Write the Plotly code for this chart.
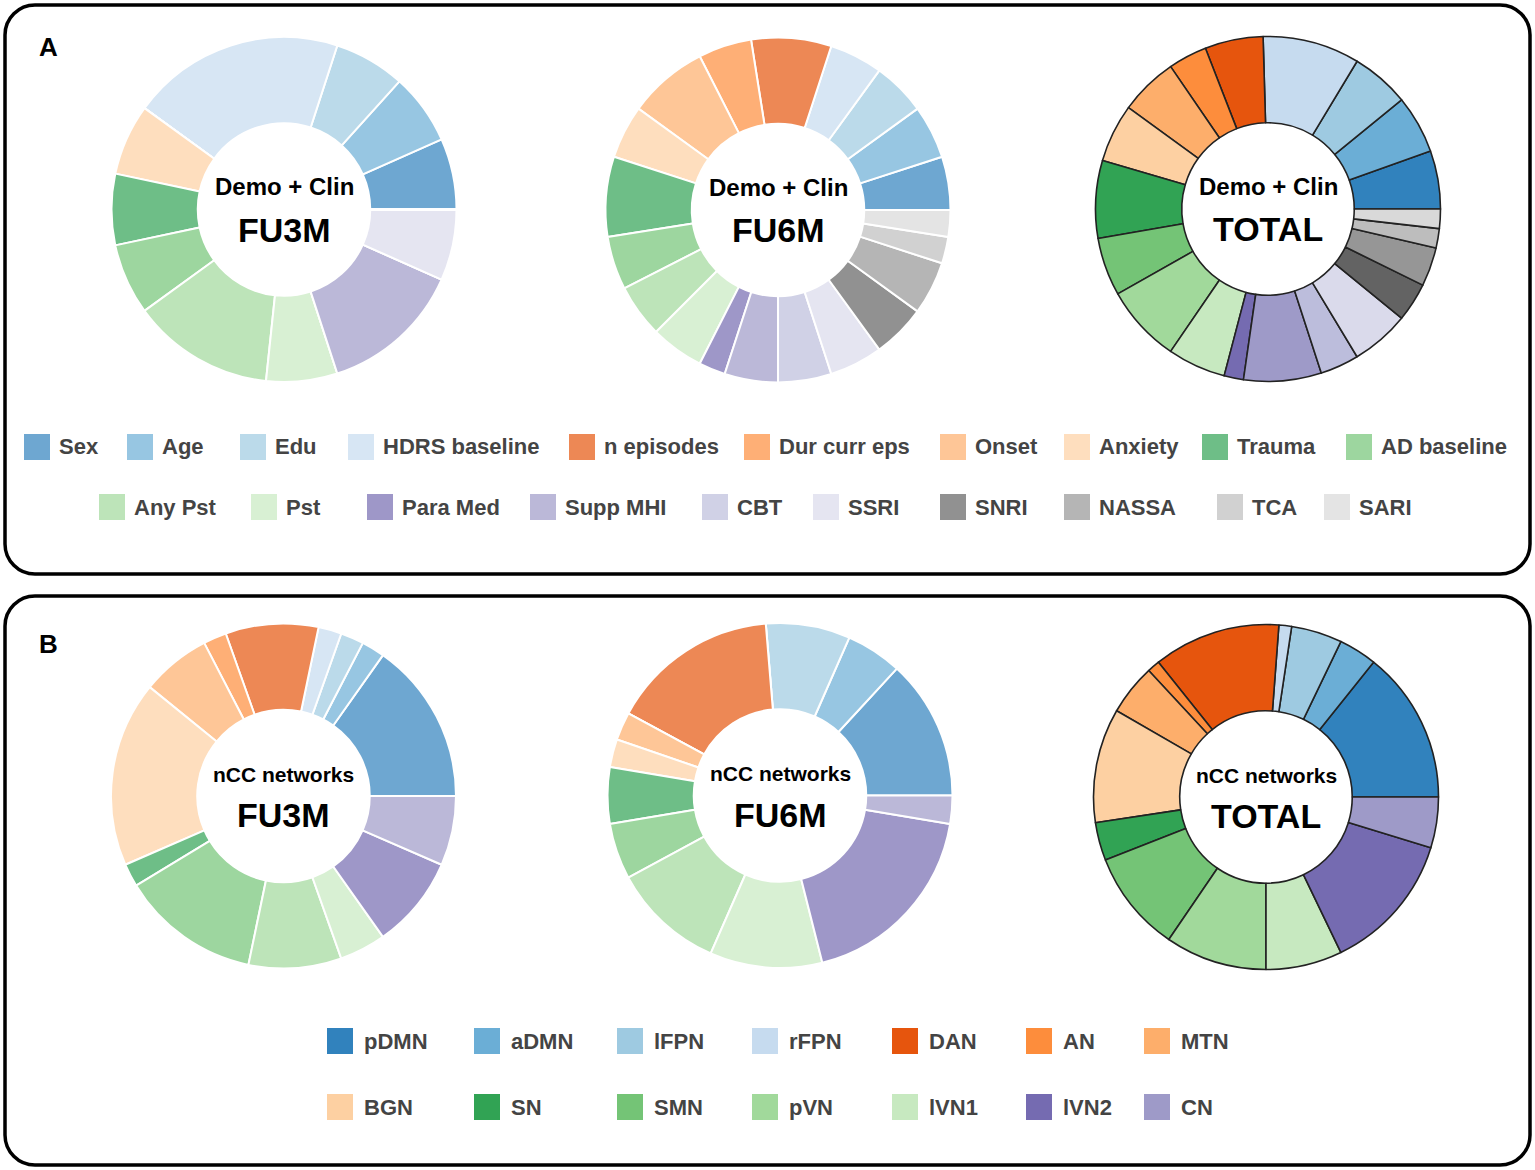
import plotly.graph_objects as go

# --- data (counts per category) ---
demo_labels = ["Sex", "Age", "Edu", "HDRS baseline", "n episodes", "Dur curr eps",
               "Onset", "Anxiety", "Trauma", "AD baseline", "Any Pst", "Pst",
               "Para Med", "Supp MHI", "CBT", "SSRI", "SNRI", "NASSA", "TCA", "SARI"]
demo_fu3m = [1, 1, 1, 3, 0, 0, 0, 1, 1, 1, 2, 1, 0, 2, 0, 1, 0, 0, 0, 0]
demo_fu6m = [2, 2, 2, 2, 3, 2, 3, 2, 3, 2, 2, 2, 1, 2, 2, 2, 2, 2, 1, 1]
demo_total = [3, 3, 3, 5, 3, 2, 3, 3, 4, 3, 4, 3, 1, 4, 2, 3, 2, 2, 1, 1]

net_labels = ["pDMN", "aDMN", "lFPN", "rFPN", "DAN", "AN", "MTN",
              "BGN", "SN", "SMN", "pVN", "lVN1", "lVN2", "CN"]
net_fu3m = [7, 1, 1, 1, 4, 1, 3, 8, 1, 6, 4, 2, 4, 3]
net_fu6m = [5, 2, 3, 0, 6, 0, 1, 1, 2, 2, 4, 4, 7, 1]
net_total = [12, 3, 4, 1, 10, 1, 4, 9, 3, 8, 8, 6, 11, 4]

# tab20c
tab20c = ["#3182bd", "#6baed6", "#9ecae1", "#c6dbef",
          "#e6550d", "#fd8d3c", "#fdae6b", "#fdd0a2",
          "#31a354", "#74c476", "#a1d99b", "#c7e9c0",
          "#756bb1", "#9e9ac8", "#bcbddc", "#dadaeb",
          "#636363", "#969696", "#bdbdbd", "#d9d9d9"]


def faded(hexcol, a=0.7):
    r, g, b = (int(hexcol[i:i + 2], 16) for i in (1, 3, 5))
    return f"rgba({r},{g},{b},{a})"


W, H = 1535, 1170
FONT = "Liberation Sans, Arial, Helvetica, sans-serif"


def px(x):
    return x / W


def py(y):
    return 1 - y / H


R = 172.5


def donut(vals, labels, colors, cx, cy, edge, lw):
    # plotly offsets the start by the first slice; compensate so the
    # first slice begins at 3 o'clock and the rest run anticlockwise
    first = 360 * vals[0] / sum(vals)
    return go.Pie(
        values=vals, labels=labels, sort=False,
        direction="counterclockwise", rotation=90 - first, hole=0.5,
        marker=dict(colors=colors, line=dict(color=edge, width=lw)),
        textinfo="none", showlegend=False,
        domain=dict(x=[px(cx - R), px(cx + R)], y=[py(cy + R), py(cy - R)]),
    )


light_demo = [faded(c) for c in tab20c]
net_cols = tab20c[:len(net_labels)]
light_net = [faded(c) for c in net_cols]

fig = go.Figure()
fig.add_trace(donut(demo_fu3m, demo_labels, light_demo, 284, 209.5, "white", 2))
fig.add_trace(donut(demo_fu6m, demo_labels, light_demo, 778, 210, "white", 2))
fig.add_trace(donut(demo_total, demo_labels, tab20c, 1268, 209, "#222222", 1.6))
fig.add_trace(donut(net_fu3m, net_labels, light_net, 283.5, 796, "white", 2))
fig.add_trace(donut(net_fu6m, net_labels, light_net, 780, 795.5, "white", 2))
fig.add_trace(donut(net_total, net_labels, net_cols, 1266, 797, "#222222", 1.6))

shapes = []
annotations = []


def text(x, y, s, size, color="black", anchor="center"):
    annotations.append(dict(
        x=px(x), y=py(y), xref="paper", yref="paper", text=s, showarrow=False,
        xanchor=anchor, yanchor="middle",
        font=dict(family=FONT, size=size, color=color, weight="bold")))


def panel(x0, y0, x1, y1, r=30):
    rx, ry, k = r / W, r / H, 0.4477
    X0, X1, Y0, Y1 = px(x0), px(x1), py(y0), py(y1)
    p = (f"M {X0 + rx},{Y0} L {X1 - rx},{Y0} "
         f"C {X1 - rx * k},{Y0} {X1},{Y0 - ry * k} {X1},{Y0 - ry} "
         f"L {X1},{Y1 + ry} "
         f"C {X1},{Y1 + ry * k} {X1 - rx * k},{Y1} {X1 - rx},{Y1} "
         f"L {X0 + rx},{Y1} "
         f"C {X0 + rx * k},{Y1} {X0},{Y1 + ry * k} {X0},{Y1 + ry} "
         f"L {X0},{Y0 - ry} "
         f"C {X0},{Y0 - ry * k} {X0 + rx * k},{Y0} {X0 + rx},{Y0} Z")
    shapes.append(dict(type="path", path=p, xref="paper", yref="paper",
                       line=dict(color="black", width=3.5), layer="below"))


panel(5, 5, 1530, 574)
panel(5, 596, 1530, 1165)
text(48, 47, "A", 26)
text(48, 644, "B", 26)

# centre labels
for cx, cy, name in [(284, 209.5, "FU3M"), (778, 210, "FU6M"), (1268, 209, "TOTAL")]:
    text(cx, cy - 22.5, "Demo + Clin", 24)
    text(cx, cy + 20.5, name, 34)
for cx, cy, name in [(283.5, 796, "FU3M"), (780, 795.5, "FU6M"), (1266, 797, "TOTAL")]:
    text(cx, cy - 22, "nCC networks", 21)
    text(cx, cy + 19, name, 34)


def swatch(x, y, col):
    shapes.append(dict(type="rect", xref="paper", yref="paper",
                       x0=px(x), x1=px(x + 26), y0=py(y + 13), y1=py(y - 13),
                       fillcolor=col, line=dict(width=0)))


# legends
a_rows = [(447, [24, 127, 240, 348, 569, 744, 940, 1064, 1202, 1346]),
          (507, [99, 251, 367, 530, 702, 813, 940, 1064, 1217, 1324])]
i = 0
for y, xs in a_rows:
    for x in xs:
        swatch(x, y, light_demo[i])
        text(x + 33, y, demo_labels[i], 22, "#444444", "left")
        i += 1

b_cols = [327, 474, 617, 752, 892, 1026, 1144]
i = 0
for y in (1041, 1107):
    for x in b_cols:
        swatch(x, y, net_cols[i])
        text(x + 35, y, net_labels[i], 22, "#444444", "left")
        i += 1

fig.update_layout(
    width=W, height=H, margin=dict(l=0, r=0, t=0, b=0),
    paper_bgcolor="white", plot_bgcolor="white",
    shapes=shapes, annotations=annotations,
    font=dict(family=FONT),
)

# drop the default 8px body margin so the figure fills the window
fig.write_html("out.html", config={"displayModeBar": False},
               post_script="document.body.style.margin='0';")
